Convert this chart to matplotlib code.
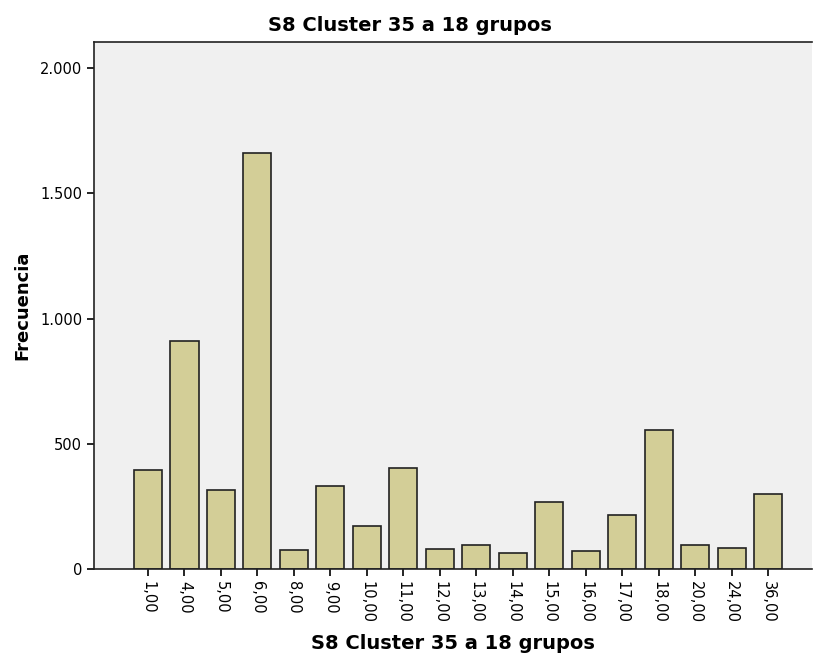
import matplotlib
matplotlib.use("Agg")
import matplotlib.pyplot as plt
from matplotlib.ticker import FuncFormatter

# Category labels and frequencies
categories = ['1,00', '4,00', '5,00', '6,00', '8,00', '9,00', '10,00', '11,00', '12,00',
              '13,00', '14,00', '15,00', '16,00', '17,00', '18,00', '20,00', '24,00', '36,00']
counts = [394, 910, 317, 1659, 76, 332, 171, 405, 81,
          96, 65, 267, 70, 214, 553, 95, 85, 299]

fig = plt.figure(figsize=(8.14, 6.55), dpi=100)
ax = fig.add_axes([0.1155, 0.1313, 0.882, 0.8046])
ax.set_facecolor('#f0f0f0')

x = range(len(categories))
ax.bar(x, counts, width=0.77, color='#d3ce97', edgecolor='#222222', linewidth=1.2)

ax.set_xlim(-1.48, 18.2)
ax.set_ylim(0, 2104)
ax.set_yticks([0, 500, 1000, 1500, 2000])
ax.yaxis.set_major_formatter(FuncFormatter(lambda v, p: f'{int(v):,}'.replace(',', '.')))
ax.set_xticks(list(x))
ax.set_xticklabels(categories, rotation=-90, fontsize=10.5)
ax.tick_params(axis='y', labelsize=10.5, length=5, width=1.2, direction='out')
ax.tick_params(axis='x', length=5, width=1.2, direction='out')

for side in ['left', 'bottom', 'top', 'right']:
    ax.spines[side].set_linewidth(1.2)
    ax.spines[side].set_color('#222222')
ax.spines['right'].set_visible(False)

ax.set_ylabel('Frecuencia', fontsize=13, fontweight='bold', labelpad=6)
ax.set_xlabel('S8 Cluster 35 a 18 grupos', fontsize=14, fontweight='bold', labelpad=8)
fig.suptitle('S8 Cluster 35 a 18 grupos', x=0.503, y=0.975, fontsize=14, fontweight='bold')

fig.savefig('out.png', dpi=100, facecolor='white')
